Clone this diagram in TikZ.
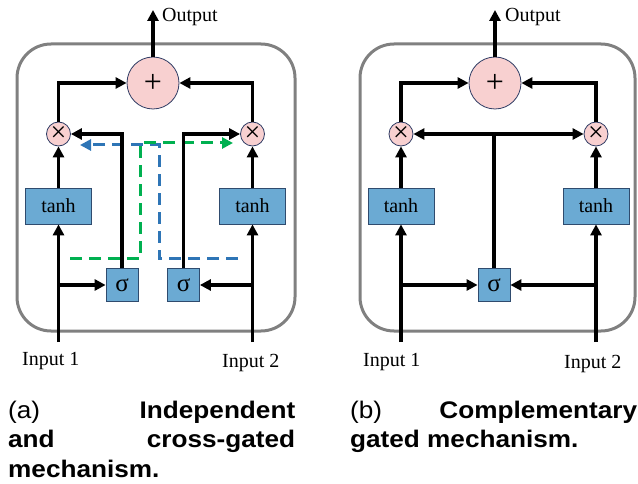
\documentclass[tikz,border=0pt]{standalone}
\usepackage{fontspec}
\setmainfont{Liberation Serif}
\newfontfamily\capfont[FakeStretch=1.09]{Liberation Sans}
\usetikzlibrary{arrows.meta}
\definecolor{panelgray}{RGB}{128,128,128}
\definecolor{gatefill}{RGB}{107,170,211}
\definecolor{gateedge}{RGB}{47,75,110}
\definecolor{opfill}{RGB}{248,208,208}
\definecolor{opedge}{RGB}{47,60,100}
\definecolor{dashblue}{RGB}{46,117,182}
\definecolor{dashgreen}{RGB}{0,176,80}
\begin{document}
\begin{tikzpicture}[x=1pt,y=-1pt,
  panel/.style={draw=panelgray,line width=3pt,rounded corners=34pt},
  wire/.style={line width=3.2pt,draw=black},
  arr/.style={-{Triangle[length=11pt,width=11pt]}},
  arrboth/.style={{Triangle[length=11pt,width=11pt]}-{Triangle[length=11pt,width=11pt]}},
  gate/.style={draw=gateedge,fill=gatefill,line width=0.8pt,inner sep=0pt,
    font=\fontsize{20}{24}\selectfont},
  tanhbox/.style={gate,minimum width=66pt,minimum height=36pt},
  sigbox/.style={gate,minimum width=32pt,minimum height=33pt,font=\fontsize{25}{25}\selectfont},
  plusop/.style={circle,draw=opedge,fill=opfill,line width=0.8pt,minimum size=52pt,
    inner sep=0pt,font=\fontsize{32}{32}\selectfont},
  mulop/.style={circle,draw=opedge,fill=opfill,line width=0.8pt,minimum size=24pt,
    inner sep=0pt,font=\fontsize{28}{28}\selectfont},
  txt/.style={inner sep=0pt,anchor=base west,font=\fontsize{20}{24}\selectfont},
  captxt/.style={inner sep=0pt,anchor=base west,font=\capfont\fontsize{24}{24}\selectfont},
  flow/.style={line width=3pt,dash pattern=on 12pt off 7pt}
]
\useasboundingbox (0,0) rectangle (638,484);

% ---------- (a) independent and cross-gated mechanism ----------
\draw[panel] (17,44) rectangle (295,331);

\node[plusop] (Lp) at (153,83) {+};
\node[mulop] (Lm1) at (58.5,134) {×};
\node[mulop] (Lm2) at (252.5,134) {×};
\node[tanhbox] (Lt1) at (58.5,206) {tanh};
\node[tanhbox] (Lt2) at (252.5,206) {tanh};
\node[sigbox] (Ls1) at (122,285) {σ};
\node[sigbox] (Ls2) at (183.5,285) {σ};

\coordinate (Lin1) at (58.5,342);
\coordinate (Lin2) at (252.5,342);
\coordinate (Lout) at (153,10);

% cross-gating paths
\coordinate (Bstart) at (238,259);
\coordinate (Bdown) at (159,259);
\coordinate (Bup) at (159,145);
\coordinate (Bend) at (80,145);
\draw[flow,dashblue,arr] (Bstart) -- (Bdown) -- (Bup) -- (Bend);
\coordinate (Gstart) at (70,259);
\coordinate (Gdown) at (140,259);
\coordinate (Gup) at (140,143);
\coordinate (Gend) at (233,143);
\draw[flow,dashgreen,arr] (Gstart) -- (Gdown) -- (Gup) -- (Gend);

\draw[wire,arr] (Lin1) -- (Lt1.south);
\draw[wire,arr] (Lin2) -- (Lt2.south);
\draw[wire,arr] (Lin1 |- Ls1.west) -- (Ls1.west);
\draw[wire,arr] (Lin2 |- Ls2.east) -- (Ls2.east);
\draw[wire,arr] (Lt1.north) -- (Lm1.south);
\draw[wire,arr] (Lt2.north) -- (Lm2.south);
\draw[wire,arr] (Ls1.north) |- (Lm1.east);
\draw[wire,arr] (Ls2.north) |- (Lm2.west);
\draw[wire,arr] (Lm1.north) |- (Lp.west);
\draw[wire,arr] (Lm2.north) |- (Lp.east);
\draw[wire,arr] (Lp.north) -- (Lout);

\node[txt] (Lotxt) at (162,22) {Output};
\node[txt] (Li1txt) at (22,365) {Input 1};
\node[txt] (Li2txt) at (222,367) {Input 2};

% ---------- (b) complementary gated mechanism ----------
\draw[panel] (360,44) rectangle (635,331);

\node[plusop] (Rp) at (495,83) {+};
\node[mulop] (Rm1) at (401,134) {×};
\node[mulop] (Rm2) at (596,134) {×};
\node[tanhbox] (Rt1) at (401,206) {tanh};
\node[tanhbox] (Rt2) at (596,206) {tanh};
\node[sigbox] (Rs) at (494,285) {σ};

\coordinate (Rin1) at (401,342);
\coordinate (Rin2) at (596,342);
\coordinate (Rout) at (495,10);

\draw[wire,arr] (Rin1) -- (Rt1.south);
\draw[wire,arr] (Rin2) -- (Rt2.south);
\draw[wire,arr] (Rin1 |- Rs.west) -- (Rs.west);
\draw[wire,arr] (Rin2 |- Rs.east) -- (Rs.east);
\draw[wire,arr] (Rt1.north) -- (Rm1.south);
\draw[wire,arr] (Rt2.north) -- (Rm2.south);
\draw[wire] (Rs.north) -- (Rs.north |- Rm1.east);
\draw[wire,arrboth] (Rm1.east) -- (Rm2.west);
\draw[wire,arr] (Rm1.north) |- (Rp.west);
\draw[wire,arr] (Rm2.north) |- (Rp.east);
\draw[wire,arr] (Rp.north) -- (Rout);

\node[txt] (Rotxt) at (505,22) {Output};
\node[txt] (Ri1txt) at (363,366) {Input 1};
\node[txt] (Ri2txt) at (564,368) {Input 2};

% ---------- captions ----------
\node[captxt] (capa1) at (8,418) {\makebox[287pt][s]{(a)\hfill\bfseries Independent}};
\node[captxt] (capa2) at (8,447) {\makebox[287pt][s]{\bfseries and\hfill cross-gated}};
\node[captxt] (capa3) at (8,477) {\bfseries mechanism.};
\node[captxt] (capb1) at (350,418) {\makebox[287pt][s]{(b)\hfill\bfseries Complementary}};
\node[captxt] (capb2) at (350,447) {\bfseries gated mechanism.};
\end{tikzpicture}
\end{document}
